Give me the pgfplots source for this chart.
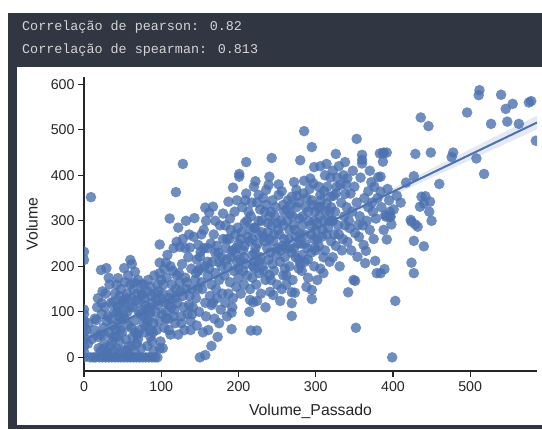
\documentclass[border=0pt]{standalone}
\usepackage{fontspec}
\setmainfont{Liberation Sans}
\newfontfamily\monofont{Liberation Mono}
\usepackage{pgfplots}
\pgfplotsset{compat=1.18}

\definecolor{sbblue}{HTML}{4C72B0}
\definecolor{panel}{HTML}{303642}
\definecolor{outtxt}{HTML}{D4D4D4}
\definecolor{axc}{HTML}{262626}

\begin{document}
\begin{tikzpicture}[x=1bp,y=1bp]
\useasboundingbox (0,0) rectangle (542,-429);
% notebook output cell
\fill[white] (0,0) rectangle (542,-429);
\fill[panel] (8,-13) rectangle (542,-429);
\node[anchor=base west, inner sep=0pt, text=outtxt, font=\monofont\fontsize{13.4bp}{16bp}\selectfont] at (22,-30) {Correlação de pearson: 0.82};
\node[anchor=base west, inner sep=0pt, text=outtxt, font=\monofont\fontsize{13.4bp}{16bp}\selectfont] at (22,-53) {Correlação de spearman: 0.813};
\fill[white] (17,-67) rectangle (542,-425);

\begin{axis}[
  at={(84bp,-371bp)}, anchor=south west,
  scale only axis, width=453bp, height=294bp,
  xmin=0, xmax=586.5, ymin=-30, ymax=616,
  axis x line*=bottom, axis y line*=left,
  axis line style={axc, line width=1.2bp, -},
  xtick={0,100,...,500}, ytick={0,100,...,600},
  tick align=outside, major tick length=6bp,
  tick style={axc, line width=1.2bp},
  xticklabel style={font=\fontsize{14.2bp}{17bp}\selectfont, text=axc, yshift=-1bp},
  yticklabel style={font=\fontsize{14.2bp}{17bp}\selectfont, text=axc},
  /pgf/number format/assume math mode=true,
  scaled ticks=false,
  xlabel={Volume\_Passado}, ylabel={Volume},
  every axis x label/.style={at={(axis description cs:0.5,-0.136)}, anchor=center,
    font=\fontsize{15.8bp}{19bp}\selectfont, text=axc},
  every axis y label/.style={at={(axis description cs:-0.115,0.5)}, anchor=center, rotate=90,
    font=\fontsize{15.8bp}{19bp}\selectfont, text=axc},
  clip marker paths=true,
]
% observations
\addplot[only marks, mark=*, mark size=5.3bp, color=sbblue,
  mark options={draw=sbblue, fill=sbblue, fill opacity=0.8, draw opacity=0}] coordinates {
(0,0) (0,12) (0,25) (0,40) (0,55) (0,68) (0,80) (0,95) (0,105) (0,214) (0,232) (9,352)
(3,60) (5,30) (8,0) (12,0) (15,0) (14,85) (16,82) (18,45) (19,20) (17,110) (13,60) (10,40) (6,75)
(20,0) (24,0) (28,0) (32,0) (36,0) (22,15) (26,30) (30,10) (34,25) (38,45) (21,50) (25,65) (29,80)
(33,55) (37,70) (23,95) (27,110) (31,90) (35,120) (39,100) (23,119) (38,122) (28,140) (33,160)
(36,35) (22,192) (29,196) (31,5) (39,15) (26,50)
(40,0) (44,0) (48,0) (52,0) (56,0) (42,20) (46,35) (50,15) (54,40) (58,25) (41,60) (45,75) (49,55)
(53,85) (57,70) (43,100) (47,115) (51,95) (55,130) (59,110) (44,174) (48,150) (52,196) (56,140)
(60,160) (60,214) (46,135) (50,125) (58,5) (42,45) (45,90) (53,165) (57,180)
(60,0) (64,0) (68,0) (72,0) (76,0) (62,25) (66,10) (70,40) (74,20) (78,55) (61,65) (65,80) (69,50)
(73,95) (77,75) (63,110) (67,125) (71,100) (75,140) (79,115) (66,188) (64,150) (70,170) (74,160)
(62,205) (78,130) (68,30) (72,60) (76,90) (80,105) (63,45)
(80,0) (84,0) (88,0) (92,0) (95,0) (82,25) (86,45) (90,15) (94,60) (98,20) (81,70) (85,90) (89,55)
(93,100) (97,80) (83,170) (86,155) (75,137) (88,120) (92,140) (96,115) (98,185) (98,208) (98,248)
(99,35) (87,135) (84,110) (91,180) (95,160) (100,130) (83,80)
(18,130) (24,145) (32,175) (40,140) (42,160) (35,85) (27,20) (44,110) (48,85) (52,120) (56,100)
(61,130) (65,165) (69,140) (71,120) (77,160) (82,145) (86,100) (90,75) (94,125) (96,145) (100,170)
(102,140) (106,100) (110,115) (114,160) (118,130) (120,180) (124,165) (128,135) (132,150) (130,60)
(136,115) (140,95) (112,50) (106,85) (88,35) (85,60) (66,55) (54,15) (47,60)
(102,20) (110,60) (118,75) (101,95) (105,120) (109,85) (113,140) (117,105) (103,160) (107,175)
(111,130) (115,190) (119,150) (106,208) (108,225) (112,200) (116,240) (120,254) (111,305) (119,363)
(104,65) (116,90) (113,110) (104,195)
(124,243) (131,240) (137,241) (122,50) (126,75) (134,95) (138,60) (121,120) (125,145) (129,110)
(133,165) (137,135) (123,185) (127,205) (131,175) (135,220) (139,195) (128,425) (128,260) (136,270)
(122,285) (132,300) (126,90) (140,150) (138,80)
(143,306) (148,247) (150,221) (151,232) (150,0) (157,5) (146,70) (154,55) (158,90) (141,110)
(145,130) (149,100) (153,150) (157,120) (144,170) (148,190) (152,165) (156,200) (160,180) (142,265)
(157,329) (155,280) (160,240) (146,215) (152,270) (158,300) (147,150)
(162,318) (167,331) (161,60) (165,25) (169,85) (173,45) (177,105) (163,135) (167,120) (171,150)
(175,170) (179,140) (162,195) (166,210) (170,185) (174,230) (178,200) (164,250) (168,270) (172,245)
(176,290) (180,316) (170,300) (180,260) (165,160) (175,75) (178,220)
(175,210) (170,230) (160,210) (155,240) (150,195) (145,185) (165,115) (172,130)
(187,342) (193,373) (191,62) (191,98) (183,120) (187,140) (185,90) (189,165) (193,130) (197,155)
(182,180) (186,200) (190,220) (194,190) (198,210) (184,240) (188,260) (192,235) (196,270) (200,250)
(183,290) (189,305) (195,320) (199,285) (185,215) (200,175) (192,110) (198,345)
(185,260) (190,280) (197,240) (200,195) (195,230)
(201,403) (201,397) (210,429) (210,360) (216,59) (215,126) (219,121) (203,140) (207,160) (211,180)
(215,150) (219,200) (202,215) (206,235) (210,205) (214,255) (218,225) (204,275) (208,295) (212,265)
(216,310) (220,285) (205,330) (209,345) (213,320) (217,340) (220,375) (206,190) (214,100) (208,245)
(218,175) (203,260) (207,220) (211,300) (215,280) (218,260) (220,210)
(222,387) (226,357) (224,59) (224,124) (236,368) (239,379) (240,397) (241,144) (223,160) (227,185)
(231,200) (235,170) (239,215) (221,230) (225,250) (229,220) (233,265) (237,240) (222,285) (226,300)
(230,275) (234,320) (238,295) (224,340) (228,325) (232,350) (236,335) (240,310) (229,140) (235,110)
(227,210) (233,190) (240,260) (221,195) (222,240) (226,270) (230,300) (234,255) (238,275) (240,180)
(243,438) (245,137) (252,357) (254,124) (258,335) (242,170) (246,190) (250,160) (254,210) (258,180)
(241,230) (245,255) (249,225) (253,270) (257,245) (243,290) (247,310) (251,280) (255,300) (259,320)
(244,345) (248,330) (256,365) (260,220) (250,240) (256,150) (244,205) (252,380) (259,260)
(242,320) (246,270) (250,295) (254,235) (258,290) (260,195)
(269,353) (275,368) (280,433) (269,91) (269,119) (269,143) (273,142) (262,180) (266,200) (270,170)
(274,220) (278,195) (261,240) (265,260) (269,230) (273,280) (277,250) (263,300) (267,315) (271,290)
(275,330) (279,305) (264,345) (268,335) (272,385) (276,355) (280,270) (262,160) (278,215) (266,280)
(272,240) (262,325) (266,240) (270,310) (274,265) (278,340) (280,205)
(285,497) (295,462) (285,388) (293,393) (297,382) (298,418) (295,128) (295,148) (288,155) (282,190)
(286,210) (290,175) (294,230) (298,200) (281,250) (285,270) (289,240) (293,290) (297,260) (283,310)
(287,330) (291,300) (295,345) (299,320) (284,360) (288,350) (292,370) (296,335) (290,215) (300,280)
(282,225) (299,240) (282,290) (286,250) (290,320) (294,270) (298,300) (300,235)
(306,420) (314,425) (306,357) (319,353) (314,338) (302,170) (306,195) (310,220) (304,245) (308,265)
(312,235) (316,285) (320,255) (302,295) (305,310) (309,280) (313,320) (317,300) (303,330) (307,345)
(311,365) (315,375) (319,395) (318,210) (310,185) (304,375) (320,330) (312,400)
(302,260) (306,330) (310,300) (314,270) (318,320)
(326,447) (338,429) (327,375) (332,379) (338,359) (322,220) (326,245) (330,270) (334,235) (338,290)
(321,300) (325,320) (329,290) (333,340) (337,310) (323,355) (328,395) (336,400) (340,330) (324,270)
(331,200) (335,260) (339,380) (322,410) (330,420) (322,300) (326,360)
(341,393) (353,480) (360,445) (360,434) (360,426) (352,65) (342,143) (349,170) (351,168) (341,254)
(344,284) (351,273) (355,291) (354,221) (343,300) (347,320) (353,340) (357,310) (345,360) (350,375)
(358,395) (346,235) (356,265) (348,410)
(362,247) (365,234) (364,207) (373,340) (377,212) (379,185) (361,290) (366,300) (370,280) (374,320)
(378,305) (363,350) (368,365) (372,385) (376,375) (370,410) (375,260) (368,330) (380,350)
(381,396) (383,448) (388,450) (387,448) (392,450) (387,430) (384,397) (384,364) (384,185) (389,194)
(392,259) (390,313) (396,309) (396,320) (401,325) (397,309) (391,309) (398,292) (399,0) (385,330)
(393,370) (395,345) (388,280)
(403,124) (417,384) (427,398) (423,302) (424,298) (429,292) (432,287) (427,256) (440,244) (424,208)
(427,185) (429,447) (436,527) (446,508) (449,450) (437,353) (442,354) (435,331) (448,342) (447,320)
(440,338) (450,300) (410,340) (405,355)
(460,381) (476,440) (478,450) (496,538) (508,437) (512,587) (511,576) (518,403) (527,513) (540,577)
(546,546) (555,557) (548,518) (563,513) (576,560) (579,563) (585,476)
};
% 95% confidence band of the fit
\addplot[draw=none, fill=sbblue, fill opacity=0.15] coordinates {
(0,47) (100,125) (200,205) (300,287.5) (400,372) (500,457.5) (586.5,531)
(586.5,501) (500,433.5) (400,356) (300,277.5) (200,197) (100,114) (0,29)
};
% least-squares fit
\addplot[sbblue, line width=2bp] coordinates {(0,38) (586.5,516)};
\end{axis}
\end{tikzpicture}
\end{document}
